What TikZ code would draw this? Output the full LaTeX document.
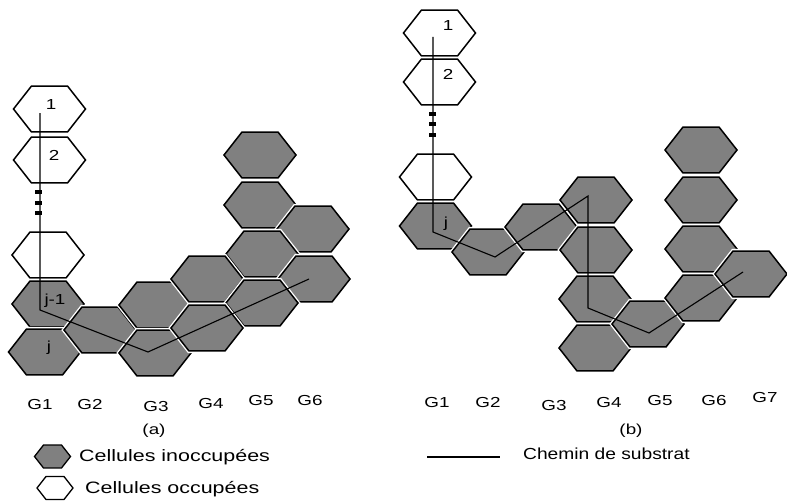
\documentclass[tikz,border=0pt]{standalone}
\usepackage{fontspec}
\setmainfont{Liberation Sans}
\newfontfamily\lblfont{Liberation Sans}[FakeStretch=1.3]
\newfontfamily\legfont{Liberation Sans}[FakeStretch=1.2]
\usetikzlibrary{shapes.geometric}
\begin{document}
\begin{tikzpicture}[x=1pt,y=-1pt,
  hexcell/.style={regular polygon, regular polygon sides=6, minimum size=72pt,
     inner sep=0pt, outer sep=0pt, yscale=0.737, transform shape,
     draw=black, line width=1.5pt, preaction={draw=white, line width=4.2pt}},
  freecell/.style={hexcell, fill=white},
  busycell/.style={hexcell, fill=gray},
  smallfree/.style={freecell, minimum size=36pt, line width=1.3pt, preaction={}},
  smallbusy/.style={busycell, minimum size=36pt, line width=1.3pt},
  route/.style={draw=black, line width=1.1pt},
  dotmark/.style={rectangle, fill=black, minimum width=7pt, minimum height=4pt, inner sep=0pt},
  glab/.style={font=\lblfont\fontsize{14.5}{14.5}\selectfont, anchor=base, inner sep=0pt},
  numlab/.style={font=\lblfont\fontsize{14.5}{14.5}\selectfont, anchor=base, inner sep=0pt},
  leglab/.style={font=\legfont\fontsize{16}{16}\selectfont, anchor=base west, inner sep=0pt}
]
\useasboundingbox (0,0) rectangle (787,503);

% ---------- panel (a) ----------
\node[freecell] (a1) at (49.5,109) {};
\node[freecell] (a2) at (49.5,160) {};
\node[freecell] (a3) at (48,255) {};
\node[busycell] (aj1) at (48,304) {};
\node[busycell] (aj) at (44.5,352) {};
\node[busycell] (ag2) at (100,330) {};
\node[busycell] (ag3a) at (155,305) {};
\node[busycell] (ag3b) at (155,353) {};
\node[busycell] (ag5a) at (260,155) {};
\node[busycell] (ag5b) at (260,205) {};
\node[busycell] (ag6a) at (313,229) {};
\node[busycell] (ag5c) at (262,254) {};
\node[busycell] (ag4a) at (207,279) {};
\node[busycell] (ag6b) at (314,279) {};
\node[busycell] (ag5d) at (262,303) {};
\node[busycell] (ag4b) at (207,328) {};

\node[dotmark] (ad1) at (38.5,192) {};
\node[dotmark] (ad2) at (38.5,203) {};
\node[dotmark] (ad3) at (38.5,213) {};

\coordinate (ap0) at (40,113);
\coordinate (ap1) at (40,310);
\coordinate (ap2) at (148,352);
\coordinate (ap3) at (309,279);
\draw[route] (ap0) -- (ap1) -- (ap2) -- (ap3);

\node[numlab] (at1) at (51,110) {1};
\node[numlab] (at2) at (54,160) {2};
\node[numlab] (atj1) at (55,304) {j-1};
\node[numlab] (atj) at (49,351) {j};

\node[glab] (aG1) at (40,409) {G1};
\node[glab] (aG2) at (90,409) {G2};
\node[glab] (aG3) at (156,411) {G3};
\node[glab] (aG4) at (211,408) {G4};
\node[glab] (aG5) at (261,405) {G5};
\node[glab] (aG6) at (310,405) {G6};
\node[glab] (acap) at (154,434) {(a)};

% ---------- panel (b) ----------
\node[freecell] (b1) at (439.5,33) {};
\node[freecell] (b2) at (439.5,82) {};
\node[freecell] (b3) at (435.5,177) {};
\node[busycell] (bj) at (435.5,226) {};
\node[busycell] (bg2) at (488,252) {};
\node[busycell] (bg3) at (541,227) {};
\node[busycell] (bg4a) at (596,200) {};
\node[busycell] (bg4b) at (596,250) {};
\node[busycell] (bg4c) at (595,299) {};
\node[busycell] (bg4d) at (595,348) {};
\node[busycell] (bg5) at (648,324) {};
\node[busycell] (bg6a) at (701,150) {};
\node[busycell] (bg6b) at (701,200) {};
\node[busycell] (bg6c) at (701,249) {};
\node[busycell] (bg6d) at (701,298) {};
\node[busycell] (bg7) at (751,274) {};

\node[dotmark] (bd1) at (432,114) {};
\node[dotmark] (bd2) at (432,124) {};
\node[dotmark] (bd3) at (432,135) {};

\coordinate (bp0) at (433,37);
\coordinate (bp1) at (433,232);
\coordinate (bp2) at (495,257);
\coordinate (bp3) at (588,196);
\coordinate (bp4) at (588,308);
\coordinate (bp5) at (649,333);
\coordinate (bp6) at (743,272);
\draw[route] (bp0) -- (bp1) -- (bp2) -- (bp3) -- (bp4) -- (bp5) -- (bp6);

\node[numlab] (bt1) at (448,31) {1};
\node[numlab] (bt2) at (448,80) {2};
\node[numlab] (btj) at (446,227) {j};

\node[glab] (bG1) at (437,407) {G1};
\node[glab] (bG2) at (488,407) {G2};
\node[glab] (bG3) at (554,410) {G3};
\node[glab] (bG4) at (609,407) {G4};
\node[glab] (bG5) at (660,405) {G5};
\node[glab] (bG6) at (714,405) {G6};
\node[glab] (bG7) at (765,402) {G7};
\node[glab] (bcap) at (631,434) {(b)};

% ---------- legend ----------
\node[smallbusy] (lk1) at (52.5,456.5) {};
\node[leglab, font=\lblfont\fontsize{16.5}{16.5}\selectfont] (lt1) at (79,461) {Cellules inoccup\'ees};
\node[smallfree] (lk2) at (55,488) {};
\node[leglab, font=\lblfont\fontsize{16.5}{16.5}\selectfont] (lt2) at (85,493) {Cellules occup\'ees};
\coordinate (ll0) at (427,457);
\coordinate (ll1) at (500,457);
\draw[route, line width=1.5pt] (ll0) -- (ll1);
\node[leglab] (lt3) at (523,459) {Chemin de substrat};
\end{tikzpicture}
\end{document}
